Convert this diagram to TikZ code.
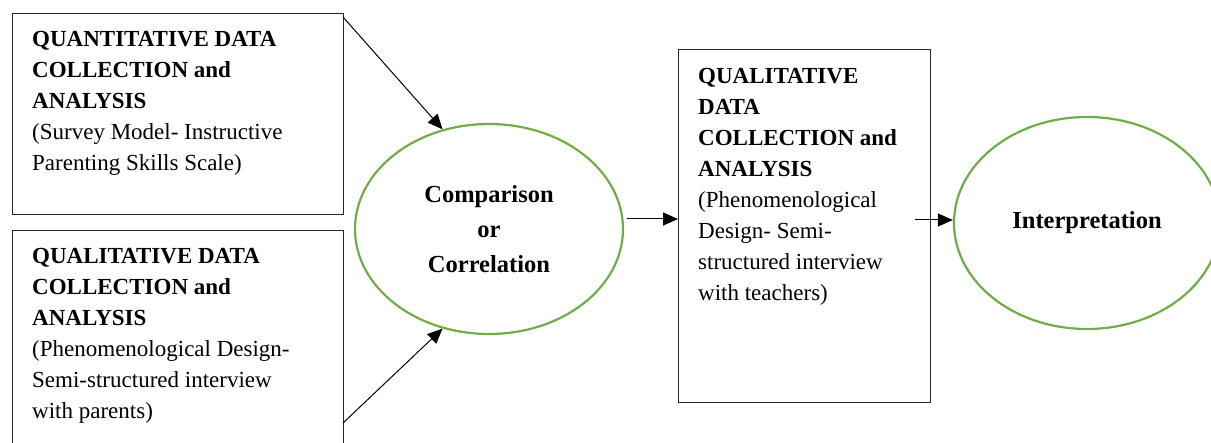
\documentclass[tikz,border=0pt]{standalone}
\usepackage{fontspec}
\setmainfont{Liberation Serif}
\usetikzlibrary{shapes.geometric,arrows.meta}
\definecolor{ovalgreen}{RGB}{112,173,71}
\tikzset{
  box/.style={draw=black!85, line width=1.2pt, inner sep=0pt},
  txt/.style={anchor=north west, inner sep=0pt, align=left, font=\fontsize{23}{31}\selectfont},
  oval/.style={ellipse, draw=ovalgreen, line width=2.2pt, inner sep=0pt, align=center,
    font=\fontsize{24.5}{35}\selectfont\bfseries},
  arr/.style={line width=1pt, -{Triangle[length=15pt,width=13pt]}}
}
\begin{document}
\begin{tikzpicture}[x=1pt,y=-1pt]
\clip (0,0) rectangle (1211,443);
\node[box, minimum width=331pt, minimum height=201pt, anchor=north west] (b1) at (12,13) {};
\node[box, minimum width=331pt, minimum height=240pt, anchor=north west] (b2) at (12,230) {};
\node[box, minimum width=252pt, minimum height=353pt, anchor=north west] (b3) at (678,49) {};
\node[txt] (t1) at (32,24.3) {\strut\textbf{QUANTITATIVE DATA}\\\textbf{COLLECTION and}\\\textbf{ANALYSIS}\\(Survey Model- Instructive\\Parenting Skills Scale)};
\node[txt] (t2) at (32,241.3) {\strut\textbf{QUALITATIVE DATA}\\\textbf{COLLECTION and}\\\textbf{ANALYSIS}\\(Phenomenological Design-\\Semi-structured interview\\with parents)};
\node[txt] (t3) at (698,61.3) {\strut\textbf{QUALITATIVE}\\\textbf{DATA}\\\textbf{COLLECTION and}\\\textbf{ANALYSIS}\\(Phenomenological\\Design- Semi-\\structured interview\\with teachers)};
\node[oval, minimum width=268pt, minimum height=210pt] (e1) at (489,229) {Comparison\\or\\Correlation};
\node[oval, minimum width=266pt, minimum height=212pt] (e2) at (1087,223) {Interpretation};
\coordinate (s1) at (343,17);
\coordinate (s2) at (343,423);
\coordinate (s3) at (627,219);
\coordinate (s4) at (915,220);
\draw[arr] (s1) -- (e1.115);
\draw[arr] (s2) -- (e1.245);
\draw[arr] (s3) -- (b3.west |- s3);
\draw[arr] (s4) -- (e2.west |- s4);
\end{tikzpicture}
\end{document}
